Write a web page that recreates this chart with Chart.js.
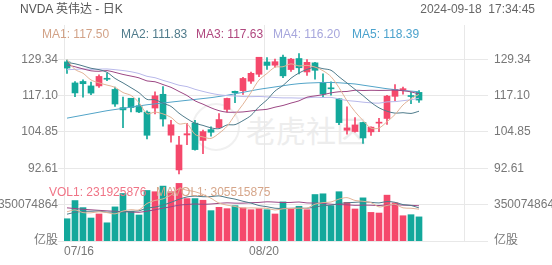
<!DOCTYPE html>
<html>
<head>
<meta charset="utf-8">
<script src="https://cdn.jsdelivr.net/npm/chart.js@4.4.1/dist/chart.umd.min.js"></script>
<style>
  body { margin: 0; background: #fff; }
  #wrap { position: relative; width: 552px; height: 265px; overflow: hidden;
    font-family: 'Liberation Sans', Arial, 'Noto Sans CJK SC', sans-serif; font-size: 12px; }
  #kline { position: absolute; left: 0; top: 0; z-index: 1; }
  .txt { position: absolute; z-index: 2; white-space: nowrap; line-height: 14px; }
  .wm { position: absolute; z-index: 0; color: #ededed; }
</style>
</head>
<body>
<div id="wrap">
  <div class="wm" style="left:192px;top:103px;width:44px;height:44px;border:2px solid #f0f0f0;border-radius:50%"></div>
  <div class="wm" style="left:246px;top:113px;font-size:30px;line-height:32px;font-family:'Noto Sans CJK SC',sans-serif">老虎社区</div>
  <canvas id="kline" width="552" height="265"></canvas>
  <div class="txt" style="left:20px;top:2px;color:#555">NVDA 英伟达 - 日K</div>
  <div class="txt" style="right:17px;top:2px;color:#666">2024-09-18&nbsp;&nbsp;17:34:45</div>
  <div id="maLegend"></div>
  <div id="volLegend"></div>
</div>
<script>
const dates = ['07/16','07/17','07/18','07/19','07/22','07/23','07/24','07/25','07/26','07/29','07/30','07/31',
  '08/01','08/02','08/05','08/06','08/07','08/08','08/09','08/12','08/13','08/14','08/15','08/16','08/19','08/20',
  '08/21','08/22','08/23','08/26','08/27','08/28','08/29','08/30','09/03','09/04','09/05','09/06','09/09','09/10',
  '09/11','09/12','09/13','09/16','09/17'];
const xLabelDates = ['07/16', '08/20'];
const slotCount = 50;

const open = [128.44,121.35,121.85,120.35,120.35,122.78,119.17,113.04,116.19,113.69,111.52,112.90,117.53,103.76,92.06,
  103.84,107.81,102.00,105.64,106.32,112.44,118.53,118.76,121.94,124.28,128.40,127.32,130.02,125.86,129.57,125.05,
  128.12,121.36,119.53,116.01,105.41,104.99,108.04,104.88,107.81,109.39,116.84,119.08,116.79,118.17];
const high = [129.04,121.85,122.40,121.60,124.07,124.69,119.95,116.63,116.20,116.28,111.99,118.34,120.16,108.72,103.41,
  107.71,108.80,105.50,106.60,111.07,116.23,118.60,123.24,125.00,130.00,129.88,129.35,130.75,129.60,131.26,129.20,
  128.33,124.43,121.75,116.21,113.27,109.65,108.15,106.55,109.40,117.19,120.79,119.96,118.18,118.80];
const low = [124.58,116.72,116.56,117.37,119.86,122.10,113.44,106.30,111.58,111.30,102.54,110.88,106.81,101.37,90.69,
  100.55,98.69,97.52,103.43,106.26,111.58,114.72,117.47,121.18,123.42,125.89,126.66,123.10,125.22,124.37,123.88,
  122.64,116.71,117.22,107.29,104.12,104.76,100.95,103.69,104.95,107.42,115.38,117.60,114.36,114.83];
const close = [126.36,117.99,121.09,117.93,123.54,122.59,114.25,112.28,113.06,111.59,103.73,117.02,109.21,107.27,100.45,
  104.25,98.91,104.97,104.75,109.02,116.14,118.08,122.86,124.58,130.00,127.25,128.50,123.74,129.37,126.46,128.30,
  125.61,117.59,119.37,108.00,106.21,107.21,102.83,106.47,108.10,116.91,119.14,119.10,116.78,115.59];

const ma1 = [129.27,125.89,124.62,122.36,121.38,120.63,119.88,118.12,117.14,114.75,110.98,111.54,110.92,109.76,107.54,
  107.64,104.02,103.17,102.67,104.38,106.76,110.59,114.17,118.14,122.33,124.55,126.64,126.81,127.77,127.06,127.27,
  126.70,125.47,123.47,119.77,115.36,111.68,108.72,106.14,106.16,108.30,110.69,113.94,116.01,117.50];
const ma2 = [128.27,127.80,127.08,126.29,125.83,124.95,122.88,121.37,119.75,118.07,115.81,115.71,114.52,113.45,111.15,
  109.31,107.78,107.05,106.22,105.96,107.20,107.31,108.67,110.40,113.36,115.66,118.62,120.49,122.95,124.70,125.91,
  126.67,126.14,125.62,123.42,121.32,119.19,117.10,114.81,112.97,111.83,111.18,111.33,111.08,111.83];
const ma3 = [127.45,126.80,126.08,125.43,125.28,125.51,124.91,124.21,123.66,123.06,122.03,121.75,120.80,119.87,118.48,
  117.12,115.32,114.20,112.98,112.01,111.50,111.50,111.59,111.92,112.24,112.48,113.19,113.76,114.58,115.32,116.55,
  116.98,117.40,118.00,118.38,118.48,118.89,118.79,118.87,118.83,118.86,118.92,118.73,118.34,117.63];
const ma4 = [125.81,125.91,126.07,125.92,126.00,126.06,125.81,125.52,125.12,124.52,123.58,123.11,122.23,121.45,120.58,
  120.12,119.21,118.50,117.86,117.37,117.10,116.95,116.77,116.73,116.79,116.65,116.44,116.32,116.32,116.25,116.31,
  116.56,116.44,116.49,115.97,115.43,115.19,114.88,114.66,114.54,114.98,115.05,115.38,115.70,116.20];
const ma5 = [109.5,110.0,110.5,111.0,111.5,112.0,112.4,112.8,113.2,113.6,114.0,114.3,114.6,114.9,115.2,115.5,115.8,
  116.1,116.4,116.8,117.2,117.7,118.2,118.7,119.2,119.6,120.0,120.4,120.8,121.1,121.3,121.4,121.5,121.5,121.4,121.2,
  121.0,120.6,120.2,119.8,119.4,119.1,118.8,118.6,118.39];

// volumes in shares
const vol = [214000000,389000000,321000000,221000000,260000000,175000000,328000000,457000000,285000000,250000000,
  486000000,474000000,528000000,474000000,554000000,408000000,408000000,392000000,292000000,324000000,311000000,
  340000000,318000000,301000000,311000000,301000000,260000000,376000000,311000000,334000000,301000000,447000000,
  454000000,340000000,474000000,372000000,308000000,415000000,275000000,269000000,441000000,367000000,243000000,
  253000000,231925876];
const mavol1 = [281e6,299e6,273e6,271e6,281e6,273e6,261e6,288e6,301e6,299e6,361e6,390e6,405e6,442e6,503e6,488e6,474e6,
  447e6,411e6,365e6,345e6,332e6,317e6,319e6,316e6,314e6,298e6,310e6,312e6,316e6,316e6,354e6,369e6,375e6,403e6,417e6,
  390e6,382e6,369e6,328e6,342e6,353e6,319e6,315e6,305515875];
const mavol2 = [258e6,275e6,285e6,286e6,288e6,277e6,280e6,281e6,286e6,290e6,317e6,326e6,346e6,372e6,401e6,424e6,432e6,
  426e6,427e6,434e6,417e6,403e6,382e6,365e6,341e6,330e6,315e6,313e6,315e6,316e6,315e6,326e6,340e6,344e6,360e6,367e6,
  372e6,376e6,372e6,366e6,380e6,372e6,350e6,342e6,318e6];
const mavol3 = [319e6,312e6,305e6,300e6,295e6,290e6,286e6,282e6,279e6,276e6,287e6,300e6,316e6,329e6,345e6,351e6,356e6,
  353e6,356e6,362e6,367e6,364e6,364e6,368e6,371e6,377e6,374e6,370e6,371e6,375e6,366e6,365e6,361e6,354e6,350e6,348e6,
  343e6,345e6,344e6,341e6,347e6,349e6,345e6,343e6,339e6];

const priceTicks = [129.34, 117.10, 104.85, 92.61];
const volTicks = [350074864, 0];
const volTickLabels = ['350074864', '亿股'];

const RED = '#f5486b';
const GREEN = '#13a89b';
const GRID = '#e8e8e8';
const TXT = '#777';

const maSeries = [
  { name: 'MA1', data: ma1, line: '#e2b396', text: '#d2a287', left: 42 },
  { name: 'MA2', data: ma2, line: '#4f7b8b', text: '#4f7b8b', left: 121 },
  { name: 'MA3', data: ma3, line: '#9c4784', text: '#b0487f', left: 196 },
  { name: 'MA4', data: ma4, line: '#b8b8ea', text: '#a6a6dc', left: 273 },
  { name: 'MA5', data: ma5, line: '#52a4c8', text: '#4ba2cd', left: 352 }
];
const volMaSeries = [
  { data: mavol1, line: '#e2b396' },
  { data: mavol2, line: '#4f7b8b' },
  { data: mavol3, line: '#9c4784' }
];

document.getElementById('maLegend').innerHTML = maSeries.map(s =>
  `<div class="txt" style="left:${s.left}px;top:27px;color:${s.text}">${s.name}: ${s.data[s.data.length - 1].toFixed(2)}</div>`).join('');
document.getElementById('volLegend').innerHTML =
  `<div class="txt" style="left:49px;top:185px;color:#f07486">VOL1: ${vol[vol.length - 1]}</div>` +
  `<div class="txt" style="left:156px;top:185px;color:#d6a68a">MAVOL1: ${Math.round(mavol1[mavol1.length - 1])}</div>`;

Chart.defaults.font.family = "'Liberation Sans', Arial, 'Noto Sans CJK SC', sans-serif";
Chart.defaults.font.size = 12;

const pts = arr => arr.map((v, i) => ({ x: i, y: v }));
const candleColor = c => close[c.dataIndex] >= open[c.dataIndex] ? RED : GREEN;

const xMin = -0.375;
const xTicks = xLabelDates.map(d => dates.indexOf(d) + xMin).concat([slotCount + xMin]);
const xTickLabels = xLabelDates.concat(['']);

// price pane and volume pane share one canvas area; the volume grid rows are
// placed on the price axis at the height the volume scale gives them
const yMin = 68.13, yMax = 140.86, volMax = 2077400000;
const onPriceScale = v => yMin + v / volMax * (yMax - yMin);
const yTicks = priceTicks.map(v => ({ value: v, txt: v.toFixed(2) }))
  .concat(volTicks.map((v, i) => ({ value: onPriceScale(v), txt: volTickLabels[i] })));

const sideAxis = (pos, width) => ({
  type: 'linear', position: pos, min: yMin, max: yMax,
  afterFit: s => { s.width = width; },
  afterBuildTicks: s => { s.ticks = yTicks.map(t => ({ ...t })); },
  ticks: { color: TXT, padding: pos === 'left' ? 0 : 6, callback: (v, i, ticks) => ticks[i].txt },
  grid: { color: GRID, tickLength: pos === 'left' ? 6 : 24, drawOnChartArea: pos === 'left' },
  border: { display: false }
});

new Chart(document.getElementById('kline'), {
  type: 'bar',
  data: {
    datasets: [
      ...maSeries.map(s => ({
        type: 'line', data: pts(s.data), yAxisID: 'y', borderColor: s.line,
        borderWidth: 1, pointRadius: 0, tension: 0.3, order: 0
      })),
      ...volMaSeries.map(s => ({
        type: 'line', data: pts(s.data), yAxisID: 'yv', borderColor: s.line,
        borderWidth: 1, pointRadius: 0, tension: 0.3, order: 0
      })),
      {
        data: dates.map((d, i) => ({ x: i, y: [low[i], high[i]] })), yAxisID: 'y',
        backgroundColor: candleColor, barThickness: 1, grouped: false, order: 2
      },
      {
        data: dates.map((d, i) => ({ x: i, y: [open[i], close[i]] })), yAxisID: 'y',
        backgroundColor: candleColor, barThickness: 6, minBarLength: 1, grouped: false, order: 1
      },
      {
        data: pts(vol), yAxisID: 'yv',
        backgroundColor: candleColor, barThickness: 6, grouped: false, order: 1
      }
    ]
  },
  options: {
    responsive: false,
    animation: false,
    devicePixelRatio: 1,
    layout: { padding: { top: 25, left: 0, right: 0, bottom: 0 } },
    plugins: { legend: { display: false }, tooltip: { enabled: false } },
    scales: {
      x: {
        type: 'linear', min: xMin, max: slotCount + xMin, offset: false,
        afterFit: s => { s.height = 24; },
        afterBuildTicks: s => { s.ticks = xTicks.map(v => ({ value: v })); },
        ticks: { color: TXT, padding: 3, align: 'inner', autoSkip: false, maxRotation: 0,
          callback: (v, i) => xTickLabels[i] },
        grid: { color: GRID, offset: false, drawTicks: false },
        border: { display: false }
      },
      y: sideAxis('left', 64),
      y2: sideAxis('right', 88),
      yv: { type: 'linear', display: false, min: 0, max: volMax }
    }
  }
});
</script>
</body>
</html>
